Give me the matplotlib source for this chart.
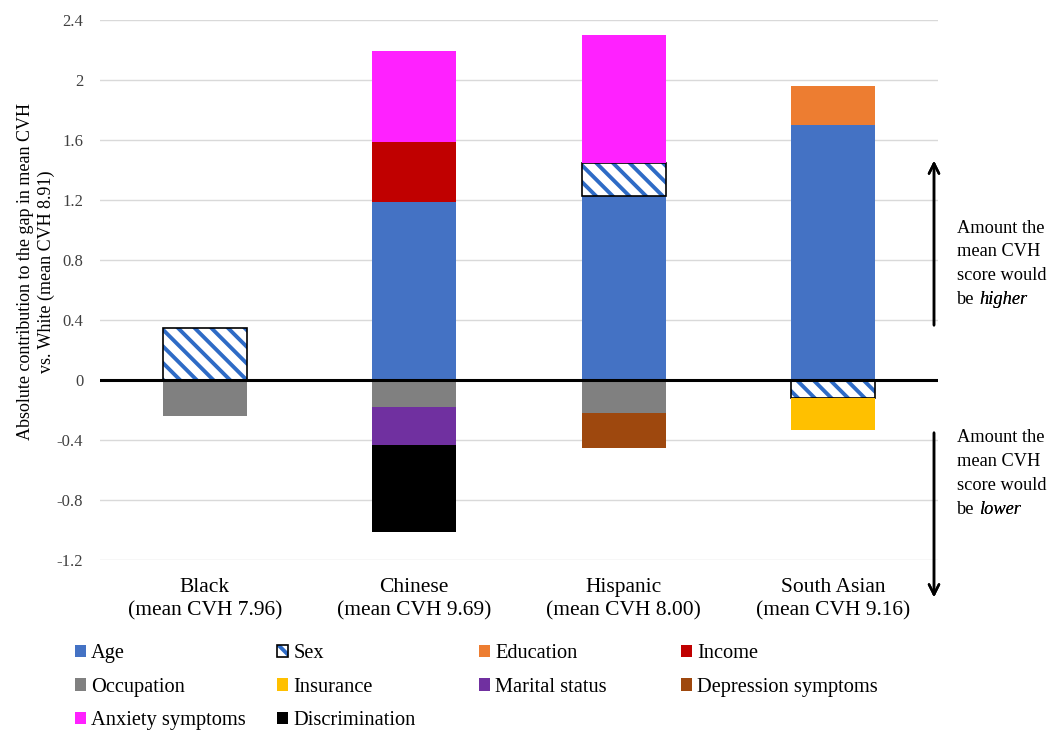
import numpy as np
import matplotlib.pyplot as plt
from matplotlib.patches import Patch
from matplotlib.legend_handler import HandlerTuple

plt.rcParams['font.family'] = 'Liberation Serif'
plt.rcParams['hatch.linewidth'] = 2.8

groups = ['Black\n(mean CVH 7.96)', 'Chinese\n(mean CVH 9.69)',
          'Hispanic\n(mean CVH 8.00)', 'South Asian\n(mean CVH 9.16)']

# contribution of each factor, per group
age = [0, 1.19, 1.23, 1.70]
sex = [0.35, 0, 0.22, -0.12]
education = [0, 0, 0, 0.26]
income = [0, 0.40, 0, 0]
occupation = [-0.24, -0.18, -0.22, 0]
insurance = [0, 0, 0, -0.21]
marital = [0, -0.25, 0, 0]
depression = [0, 0, -0.23, 0]
anxiety = [0, 0.60, 0.85, 0]
discrimination = [0, -0.58, 0, 0]

factors = ['Age', 'Sex', 'Education', 'Income', 'Occupation', 'Insurance',
           'Marital status', 'Depression symptoms', 'Anxiety symptoms', 'Discrimination']
series = [age, sex, education, income, occupation, insurance,
          marital, depression, anxiety, discrimination]
colors = ['#4472C4', 'white', '#ED7D31', '#C00000', '#808080', '#FFC000',
          '#7030A0', '#9E480E', '#FF21FF', '#000000']
hatch_blue = '#2E6BC6'

fig = plt.figure(figsize=(10.51, 7.30), dpi=100)
ax = fig.add_axes([100 / 1051, 1 - 560 / 730, 838 / 1051, 540 / 730])

x = np.arange(len(groups))
w = 0.4
pos = np.zeros(len(groups))
neg = np.zeros(len(groups))
handles = {}
for name, vals, c in zip(factors, series, colors):
    vals = np.array(vals, dtype=float)
    bottom = np.where(vals >= 0, pos, neg)
    if name == 'Sex':
        nz = vals != 0
        ax.bar(x[nz], vals[nz], w, bottom=bottom[nz], color='white',
               edgecolor=hatch_blue, hatch='\\\\', linewidth=0, zorder=2)
        ax.bar(x[nz], vals[nz], w, bottom=bottom[nz], facecolor='none',
               edgecolor='black', linewidth=1.2, zorder=2)
        handles[name] = (Patch(facecolor='white', edgecolor=hatch_blue, hatch='\\\\', linewidth=0),
                         Patch(facecolor='none', edgecolor='black', linewidth=1.2))
    else:
        ax.bar(x, vals, w, bottom=bottom, color=c, linewidth=0, zorder=2)
        handles[name] = Patch(facecolor=c, edgecolor='none')
    pos += np.where(vals > 0, vals, 0)
    neg += np.where(vals < 0, vals, 0)

ax.axhline(0, color='black', lw=2.2, zorder=3)
ax.set_xlim(-0.5, 3.5)
ax.set_ylim(-1.2, 2.4)
yt = np.round(np.arange(-1.2, 2.41, 0.4), 1)
ax.set_yticks(yt)
ax.set_yticklabels(['0' if v == 0 else f'{v:g}' for v in yt], fontsize=12, color='#404040')
ax.set_xticks(x)
ax.set_xticklabels(groups, fontsize=15.5, linespacing=1.3)
ax.tick_params(length=0)
ax.tick_params(axis='y', pad=12)
ax.tick_params(axis='x', pad=13)
ax.yaxis.grid(True, color='#D9D9D9', lw=1)
ax.set_axisbelow(True)
for s in ax.spines.values():
    s.set_visible(False)

fig.text(36 / 1051, 1 - 272 / 730,
         'Absolute contribution to the gap in mean CVH\nvs. White (mean CVH 8.91)',
         rotation=90, ha='center', va='center', fontsize=13, linespacing=1.22)

# side arrows and notes
ax_x = 934 / 1051
for y0, y1 in [(328, 158), (430, 600)]:
    fig.add_artist(plt.annotate('', xy=(ax_x, 1 - y1 / 730), xytext=(ax_x, 1 - y0 / 730),
                                xycoords='figure fraction',
                                arrowprops=dict(arrowstyle='->', lw=1.8, color='black',
                                                mutation_scale=18)))

for top, word in [(228, 'higher'), (438, 'lower')]:
    for i, line in enumerate(['Amount the', 'mean CVH', 'score would', 'be']):
        t = fig.text(957 / 1051, 1 - (top + 24 * i) / 730, line, fontsize=13.2, va='center')
    fig.add_artist(plt.annotate(word, xy=(1, 0), xycoords=t, xytext=(3.4, 0),
                                textcoords='offset points', fontsize=13.2,
                                style='italic', va='bottom', ha='left'))

# legend laid out in four fixed columns
columns = [['Age', 'Occupation', 'Anxiety symptoms'],
           ['Sex', 'Insurance', 'Discrimination'],
           ['Education', 'Marital status'],
           ['Income', 'Depression symptoms']]
col_x = [75, 277, 479, 681]
for cx, names in zip(col_x, columns):
    fig.legend([handles[n] for n in names], names, loc='upper left',
               bbox_to_anchor=(cx / 1051, 1 - 644 / 730), frameon=False,
               fontsize=14.7, handlelength=0.54, handleheight=0.54,
               handletextpad=0.25, labelspacing=0.72, borderpad=0,
               borderaxespad=0, handler_map={tuple: HandlerTuple(ndivide=1, pad=0)})

fig.savefig('out.png', dpi=100)
